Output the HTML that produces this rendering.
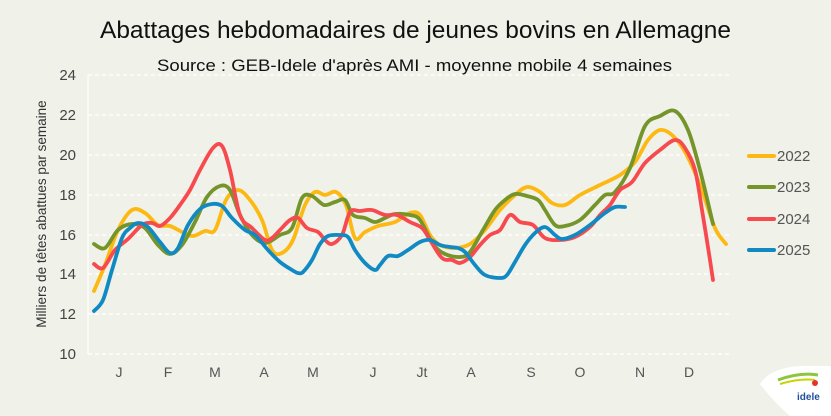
<!DOCTYPE html>
<html><head><meta charset="utf-8"><style>
html,body{margin:0;padding:0;background:#f0f1e9;}
svg{display:block;font-family:"Liberation Sans",sans-serif;}
</style></head><body>
<svg id="s" width="831" height="416" viewBox="0 0 831 416">
<rect width="831" height="416" fill="#f0f1e9"/>
<text x="100" y="38" font-size="24" fill="#111" textLength="631" lengthAdjust="spacingAndGlyphs">Abattages hebdomadaires de jeunes bovins en Allemagne</text>
<text x="157" y="71" font-size="17" fill="#111" textLength="515" lengthAdjust="spacingAndGlyphs">Source : GEB-Idele d'après AMI - moyenne mobile 4 semaines</text>
<g stroke="#fff" stroke-width="1.2" stroke-dasharray="4,3">
<line x1="88" x2="732" y1="75" y2="75"/><line x1="88" x2="732" y1="115" y2="115"/>
<line x1="88" x2="732" y1="155" y2="155"/><line x1="88" x2="732" y1="195" y2="195"/>
<line x1="88" x2="732" y1="235" y2="235"/><line x1="88" x2="732" y1="274" y2="274"/>
<line x1="88" x2="732" y1="314" y2="314"/><line x1="88" x2="732" y1="354" y2="354"/>
</g>
<line x1="88" x2="88" y1="75" y2="354" stroke="#fff" stroke-width="1.2"/>
<g font-size="15" fill="#444" text-anchor="end">
<text x="76" y="80">24</text><text x="76" y="120">22</text><text x="76" y="160">20</text><text x="76" y="200">18</text>
<text x="76" y="240">16</text><text x="76" y="279">14</text><text x="76" y="319">12</text><text x="76" y="359">10</text>
</g>
<text transform="translate(46,214) rotate(-90)" font-size="13.5" fill="#333" text-anchor="middle">Milliers de têtes abattues par semaine</text>
<g font-size="14" fill="#555" text-anchor="middle">
<text x="119" y="377">J</text><text x="168" y="377">F</text><text x="215" y="377">M</text><text x="264" y="377">A</text>
<text x="313" y="377">M</text><text x="373" y="377">J</text><text x="422" y="377">Jt</text><text x="471" y="377">A</text>
<text x="531" y="377">S</text><text x="580" y="377">O</text><text x="640" y="377">N</text><text x="689" y="377">D</text>
</g>
<g id="series" fill="none" stroke-width="3.8" stroke-linejoin="round" stroke-linecap="round">
<polyline stroke="#fdb913" points="94,291 105,265 118,230 132,210 145,213 158,225 170,226 182,232 193,236 205,231 215,230 226,200 238,190 250,200 262,220 272,250 282,253 293,240 305,205 315,192 325,195 336,192 346,205 355,238 365,232 378,226 395,222 410,213 420,215 430,235 440,245 455,248 470,244 485,230 500,210 515,195 527,187 540,192 552,203 565,205 580,195 600,185 620,175 635,162 648,140 660,130 672,135 685,152 700,185 715,228 726,244"/>
<polyline stroke="#75952b" points="94,244 105,248 118,230 132,224 145,228 158,245 170,254 182,245 195,222 207,197 220,186 230,190 240,215 252,235 265,243 280,235 292,228 302,198 312,196 324,205 335,202 345,200 353,215 365,218 375,222 385,218 395,214 410,215 420,220 433,244 445,254 460,257 470,252 483,230 495,210 505,200 515,194 527,196 538,200 545,210 555,225 565,226 580,220 595,205 605,195 615,192 630,168 645,126 660,116 675,111 688,130 700,170 713,224"/>
<polyline stroke="#f74a4f" points="94,264 103,268 115,250 128,239 142,225 152,223 160,226 170,218 180,205 190,190 200,170 213,148 222,146 230,170 240,215 252,228 265,240 272,238 280,230 290,220 298,218 307,228 318,232 325,240 332,244 342,235 350,212 360,211 372,210 385,215 397,215 410,222 422,228 430,240 442,258 452,260 460,263 470,257 480,245 490,235 500,230 510,215 520,222 533,225 545,238 560,240 575,237 590,227 600,215 610,205 620,190 632,182 645,163 660,150 675,140 685,148 695,170 702,210 710,260 713,280"/>
<polyline stroke="#118ac4" points="94,311 103,300 112,270 122,238 130,228 138,223 148,227 160,242 170,253 178,248 188,225 200,209 212,204 222,206 232,218 245,230 255,235 268,250 280,262 292,270 298,273 303,272 312,260 320,244 328,236 340,235 348,237 355,250 365,263 375,270 380,265 388,256 398,256 408,250 420,242 430,240 440,245 450,247 458,248 465,252 475,265 485,275 500,278 507,275 515,262 525,245 535,233 545,227 555,235 562,239 575,235 590,225 605,213 615,207 625,207"/>
</g>
<g stroke-width="4" stroke-linecap="round">
<line x1="749" x2="774" y1="156" y2="156" stroke="#fdb913"/>
<line x1="749" x2="774" y1="187" y2="187" stroke="#75952b"/>
<line x1="749" x2="774" y1="219" y2="219" stroke="#f74a4f"/>
<line x1="749" x2="774" y1="250" y2="250" stroke="#118ac4"/>
</g>
<g font-size="15" fill="#555">
<text x="777" y="161">2022</text><text x="777" y="192">2023</text><text x="777" y="224">2024</text><text x="777" y="255">2025</text>
</g>
<path d="M760,384 Q770,368 800,366 L831,366 L831,416 L790,416 Q772,400 760,384 Z" fill="#fff"/>
<path d="M778,380 Q800,372 818,375" stroke="#8cc63f" stroke-width="3" fill="none"/>
<path d="M780,384 Q800,378 815,380" stroke="#c8d400" stroke-width="2" fill="none"/>
<text x="797" y="400" font-size="10" font-weight="bold" fill="#1f4e9c">idele</text>
<circle cx="815" cy="383" r="3" fill="#e6332a"/>
</svg>
<script>
(function(){
var ns="http://www.w3.org/2000/svg";
var pls=document.querySelectorAll("#series polyline");
for(var k=0;k<pls.length;k++){
 var pl=pls[k];
 var p=pl.getAttribute("points").trim().split(/\s+/).map(function(s){var a=s.split(",");return[+a[0],+a[1]];});
 var d="M"+p[0][0]+","+p[0][1];
 for(var i=0;i<p.length-1;i++){
  var p0=p[i-1]||p[i],p1=p[i],p2=p[i+1],p3=p[i+2]||p2;
  var c1x=p1[0]+(p2[0]-p0[0])/6,c1y=p1[1]+(p2[1]-p0[1])/6;
  var c2x=p2[0]-(p3[0]-p1[0])/6,c2y=p2[1]-(p3[1]-p1[1])/6;
  d+=" C"+c1x.toFixed(1)+","+c1y.toFixed(1)+" "+c2x.toFixed(1)+","+c2y.toFixed(1)+" "+p2[0]+","+p2[1];
 }
 var path=document.createElementNS(ns,"path");
 path.setAttribute("d",d);path.setAttribute("stroke",pl.getAttribute("stroke"));
 pl.parentNode.replaceChild(path,pl);
}
})();
</script>
</body></html>
